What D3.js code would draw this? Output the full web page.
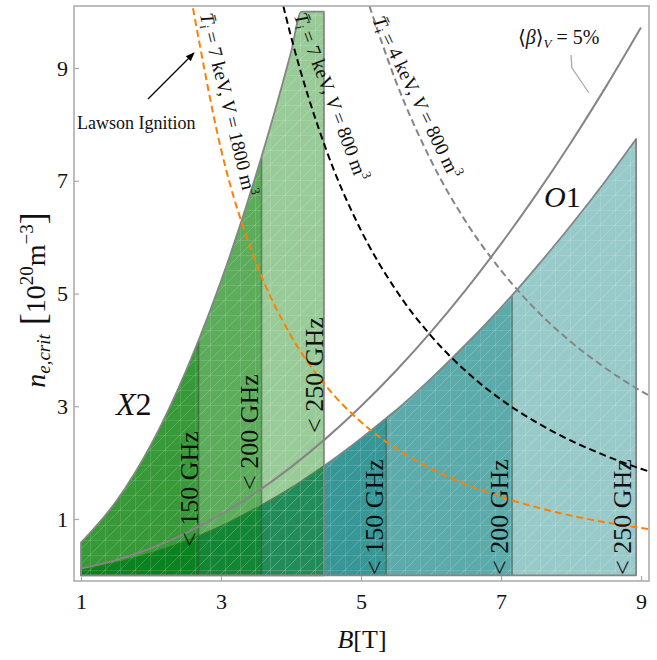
<!DOCTYPE html>
<html>
<head>
<meta charset="utf-8">
<script src="https://cdn.jsdelivr.net/npm/d3@7"></script>
<style>
  body { margin: 0; background: #fff; }
  svg, svg text { font-family: "Liberation Serif", "Times New Roman", "DejaVu Serif", Times, serif; }
</style>
</head>
<body>
<svg id="chart" width="657" height="660"></svg>
<script>
// ---- data ----
// X2 cutoff (upper edge of the green region), capped at 10
var x2B = [1, 1.5, 2, 2.5, 2.68, 3, 3.5, 3.58, 4, 4.15, 4.47];
var x2N = [0.58, 1.31, 2.32, 3.63, 4.17, 5.22, 7.1, 7.43, 9.28, 10, 10];
// O1 cutoff (upper edge of the teal region)
var o1B = [1, 1.5, 2, 2.5, 3, 3.5, 4, 4.47, 5, 5.36, 5.5, 6, 6.5, 7, 7.16, 7.5, 8, 8.5, 8.93];
var o1N = [0.1, 0.22, 0.39, 0.61, 0.87, 1.19, 1.55, 1.94, 2.43, 2.79, 2.93, 3.49, 4.1, 4.75, 4.97, 5.46, 6.21, 7.01, 7.74];
// gyrotron frequency limits (B edge of each band)
var bandLabels = ["< 150 GHz", "< 200 GHz", "< 250 GHz"];
var x2Edges = [2.68, 3.58, 4.47];
var o1Edges = [5.36, 7.16, 8.93];
// <beta>_V = 5% line
var betaB = [1, 1.5, 2, 2.5, 3, 3.5, 4, 4.5, 5, 5.5, 6, 6.5, 7, 7.5, 8, 8.5, 9];
var betaN = [0.12, 0.27, 0.48, 0.75, 1.08, 1.47, 1.92, 2.43, 3.0, 3.63, 4.32, 5.07, 5.88, 6.75, 7.68, 8.67, 9.72];
// Lawson ignition curves
var lawB_7k1800 = [2.6, 3, 3.5, 4, 4.5, 5, 5.5, 6, 6.5, 7, 7.5, 8, 8.5, 9, 9.1];
var lawN_7k1800 = [10.06, 7.56, 5.55, 4.25, 3.36, 2.72, 2.25, 1.89, 1.61, 1.39, 1.21, 1.06, 0.94, 0.84, 0.82];
var lawB_7k800 = [3.89, 4, 4.5, 5, 5.5, 6, 6.5, 7, 7.5, 8, 8.5, 9, 9.1];
var lawN_7k800 = [10.1, 9.56, 7.56, 6.12, 5.06, 4.25, 3.62, 3.12, 2.72, 2.39, 2.12, 1.89, 1.85];
var lawB_4k800 = [5.12, 5.5, 6, 6.5, 7, 7.5, 8, 8.5, 9, 9.1];
var lawN_4k800 = [10.1, 8.76, 7.36, 6.27, 5.41, 4.71, 4.14, 3.67, 3.27, 3.2];
// ticks
var xTicks = [1, 3, 5, 7, 9];
var yTicks = [1, 3, 5, 7, 9];

var FONT = "'Liberation Serif', 'Times New Roman', 'DejaVu Serif', Times, serif";

var svg = d3.select("#chart").attr("font-family", FONT);
var x = d3.scaleLinear().domain([0.9, 9.1]).range([74, 648]);
var y = d3.scaleLinear().domain([-0.1, 10.1]).range([581, 6]);

function pts(bs, ns){ return bs.map(function(b, i){ return {b: b, n: ns[i]}; }); }

var defs = svg.append("defs");
defs.append("clipPath").attr("id", "plotclip")
    .append("rect").attr("x", 74).attr("y", 6).attr("width", 574).attr("height", 575);

var pat = defs.append("pattern").attr("id", "mesh")
    .attr("patternUnits", "userSpaceOnUse").attr("width", 15).attr("height", 15);
pat.append("path").attr("d", "M0,15L15,0M-3,3L3,-3M12,18L18,12")
    .attr("stroke", "#fff").attr("stroke-opacity", 0.22).attr("stroke-width", 0.8);
pat.append("path").attr("d", "M0,0.5H15M0.5,0V15")
    .attr("stroke", "#fff").attr("stroke-opacity", 0.15).attr("stroke-width", 0.8);

defs.append("marker").attr("id", "arrow").attr("viewBox", "0 0 10 10")
    .attr("refX", 9).attr("refY", 5).attr("markerWidth", 9).attr("markerHeight", 9)
    .attr("markerUnits", "userSpaceOnUse").attr("orient", "auto")
    .append("path").attr("d", "M0,1L10,5L0,9Z").attr("fill", "#000");

var area = d3.area()
    .x(function(d){ return x(d.b); })
    .y0(y(0))
    .y1(function(d){ return y(d.n); })
    .curve(d3.curveMonotoneX);

var line = d3.line()
    .x(function(d){ return x(d.b); })
    .y(function(d){ return y(d.n); })
    .curve(d3.curveMonotoneX);

var plot = svg.append("g").attr("clip-path", "url(#plotclip)");

var x2Pts = pts(x2B, x2N), o1Pts = pts(o1B, o1N);

// teal O1 bands first, green X2 bands on top
function drawBands(all, edges, color){
    var g = plot.append("g");
    edges.slice().reverse().forEach(function(e){
        g.append("path")
            .attr("d", area(all.filter(function(d){ return d.b <= e + 1e-9; })))
            .attr("fill", color).attr("fill-opacity", 0.4);
    });
    g.append("path").attr("d", area(all)).attr("fill", "url(#mesh)");
    // inner band edges
    edges.slice(0, edges.length - 1).forEach(function(e){
        var top = all.find(function(d){ return Math.abs(d.b - e) < 1e-9; });
        g.append("line")
            .attr("x1", x(e)).attr("x2", x(e))
            .attr("y1", y(0)).attr("y2", y(top.n))
            .attr("stroke", "#3a4a3a").attr("stroke-opacity", 0.5).attr("stroke-width", 1.5);
    });
    g.append("path").attr("d", area(all))
        .attr("fill", "none").attr("stroke", "#858585").attr("stroke-width", 1.8)
        .attr("stroke-linejoin", "round");
}
drawBands(o1Pts, o1Edges, "#007a7a");
drawBands(x2Pts, x2Edges, "#007d00");

// beta line
plot.append("path").attr("d", line(pts(betaB, betaN)))
    .attr("fill", "none").attr("stroke", "#858585").attr("stroke-width", 2);

// Lawson curves
[[lawB_7k1800, lawN_7k1800, "#ff8000"],
 [lawB_7k800, lawN_7k800, "#000"],
 [lawB_4k800, lawN_4k800, "#858585"]].forEach(function(c){
    plot.append("path").attr("d", line(pts(c[0], c[1])))
        .attr("fill", "none").attr("stroke", c[2]).attr("stroke-width", 2)
        .attr("stroke-dasharray", "7,4");
});

// frame + axes
svg.append("rect").attr("x", 74).attr("y", 6).attr("width", 575).attr("height", 575)
    .attr("fill", "none").attr("stroke", "#a8a8a8").attr("stroke-width", 1.5);

var xAxis = svg.append("g").attr("transform", "translate(0,581)")
    .call(d3.axisBottom(x).tickValues(xTicks).tickSize(-5).tickPadding(12));
var yAxis = svg.append("g").attr("transform", "translate(74,0)")
    .call(d3.axisLeft(y).tickValues(yTicks).tickSize(-5).tickPadding(6));
[xAxis, yAxis].forEach(function(a){
    a.attr("font-family", FONT).attr("font-size", 22);
    a.select(".domain").remove();
    a.selectAll("line").attr("stroke", "#a8a8a8").attr("stroke-width", 1.2);
    a.selectAll("text").attr("fill", "#111");
});

// helper for mixed-style text
function rich(sel, parts){
    parts.forEach(function(p){
        var t = sel.append("tspan").text(p.t);
        if (p.it) t.attr("font-style", "italic");
        if (p.fs) t.attr("font-size", p.fs);
        if (p.dy) t.attr("dy", p.dy);
    });
    return sel;
}

// axis titles
rich(svg.append("text").attr("x", 362).attr("y", 648).attr("text-anchor", "middle")
    .attr("font-size", 26).attr("fill", "#111"),
    [{t: "B", it: true}, {t: "[T]"}]);

rich(svg.append("text").attr("transform", "translate(45,300) rotate(-90)")
    .attr("text-anchor", "middle").attr("font-size", 28).attr("fill", "#111"),
    [{t: "n", it: true}, {t: "e,crit", it: true, fs: 19, dy: 5},
     {t: " [", fs: 36, dy: -5}, {t: "10"}, {t: "20", fs: 19, dy: -12},
     {t: "m", dy: 12}, {t: "\u22123", fs: 19, dy: -12}, {t: "]", fs: 36, dy: 12}]);

// region labels
rich(svg.append("text").attr("x", 116).attr("y", 415).attr("font-size", 32).attr("fill", "#111"),
    [{t: "X", it: true}, {t: "2"}]);
rich(svg.append("text").attr("x", 544).attr("y", 207).attr("font-size", 30).attr("fill", "#111"),
    [{t: "O", it: true}, {t: "1"}]);

// frequency labels (baseline x, bottom y)
var x2LabelPos = [[198, 547], [258, 490], [323, 433]];
var o1LabelPos = [[383, 575], [508, 575], [631, 575]];
bandLabels.forEach(function(l, i){
    [x2LabelPos[i], o1LabelPos[i]].forEach(function(p){
        svg.append("text").attr("transform", "translate(" + p[0] + "," + p[1] + ") rotate(-90)")
            .attr("font-size", 26).attr("fill", "#111").text(l);
    });
});

// Lawson curve labels: [cx, cy, angle, volume, temperature]
var lawLabels = [[222, 106, 76.3, "1800", "7"], [325, 99, 69.4, "800", "7"], [411, 100, 64.1, "800", "4"]];
lawLabels.forEach(function(l){
    rich(svg.append("text").attr("transform", "translate(" + l[0] + "," + l[1] + ") rotate(" + l[2] + ")")
        .attr("text-anchor", "middle").attr("font-size", 19.5).attr("fill", "#111"),
        [{t: "T\u0304", it: true}, {t: "i", it: true, fs: 13, dy: 3},
         {t: " = " + l[4] + " keV, ", dy: -3}, {t: "V", it: true},
         {t: " = " + l[3] + " m"}, {t: "3", fs: 13, dy: -8}]);
});

// Lawson Ignition annotation
svg.append("text").attr("x", 77).attr("y", 129).attr("font-size", 18).attr("fill", "#111")
    .text("Lawson Ignition");
svg.append("line").attr("x1", 148).attr("y1", 99).attr("x2", 194).attr("y2", 53)
    .attr("stroke", "#000").attr("stroke-width", 1.3).attr("marker-end", "url(#arrow)");

// beta annotation
rich(svg.append("text").attr("x", 518).attr("y", 44).attr("font-size", 20).attr("fill", "#111"),
    [{t: "\u27e8"}, {t: "\u03b2", it: true}, {t: "\u27e9"}, {t: "V", it: true, fs: 13, dy: 4},
     {t: " = 5%", dy: -4}]);
svg.append("polyline").attr("points", "571,55 572,68 589,93")
    .attr("fill", "none").attr("stroke", "#aaa").attr("stroke-width", 1.3);
</script>
</body>
</html>
